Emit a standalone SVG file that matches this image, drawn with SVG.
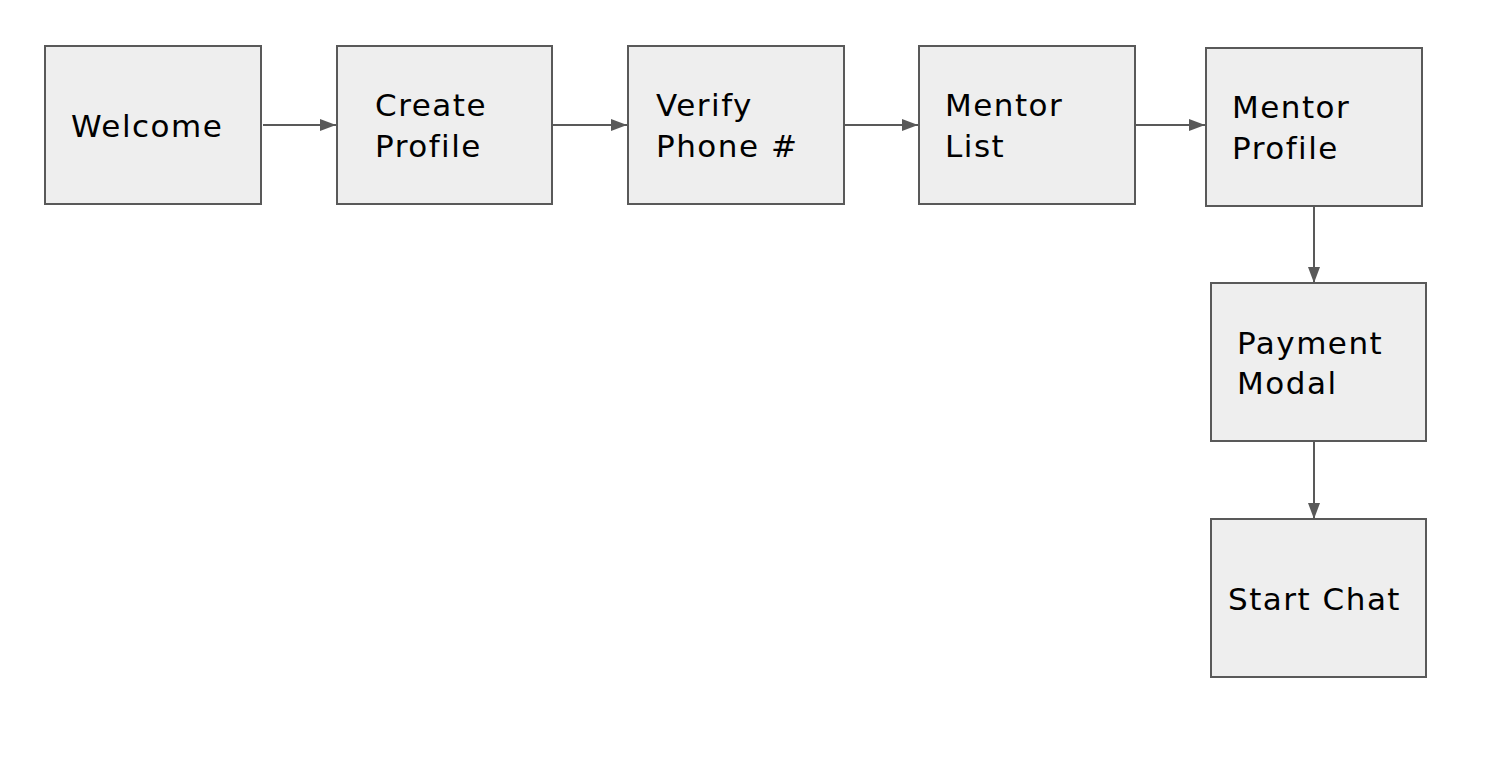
<svg xmlns="http://www.w3.org/2000/svg" width="1496" height="776" viewBox="0 0 1496 776">
<defs>
<style>
.box{fill:#eeeeee;stroke:#595959;stroke-width:2}
.lbl{font-family:"DejaVu Sans","Liberation Sans",sans-serif;font-size:31px;letter-spacing:1.5px;fill:#000}
.conn{stroke:#595959;stroke-width:2;fill:none}
</style>
<marker id="ah" markerWidth="16" markerHeight="12" refX="16" refY="6" orient="auto" markerUnits="userSpaceOnUse">
<path d="M0,0 L16,6 L0,12 Z" fill="#595959"/>
</marker>
</defs>
<rect width="1496" height="776" fill="#ffffff"/>
<g id="connectors">
<line class="conn" x1="263" y1="125" x2="336" y2="125" marker-end="url(#ah)"/>
<line class="conn" x1="553" y1="125" x2="627" y2="125" marker-end="url(#ah)"/>
<line class="conn" x1="845" y1="125" x2="918" y2="125" marker-end="url(#ah)"/>
<line class="conn" x1="1136" y1="125" x2="1205" y2="125" marker-end="url(#ah)"/>
<line class="conn" x1="1314" y1="207" x2="1314" y2="283" marker-end="url(#ah)"/>
<line class="conn" x1="1314" y1="442" x2="1314" y2="519" marker-end="url(#ah)"/>
</g>
<g id="welcome">
<rect class="box" x="45" y="46" width="216" height="158"/>
<text class="lbl" x="71" y="137">Welcome</text>
</g>
<g id="create-profile">
<rect class="box" x="337" y="46" width="215" height="158"/>
<text class="lbl" x="375" y="116">Create</text>
<text class="lbl" x="375" y="157">Profile</text>
</g>
<g id="verify-phone">
<rect class="box" x="628" y="46" width="216" height="158"/>
<text class="lbl" x="656" y="116">Verify</text>
<text class="lbl" x="656" y="157">Phone #</text>
</g>
<g id="mentor-list">
<rect class="box" x="919" y="46" width="216" height="158"/>
<text class="lbl" x="945" y="116">Mentor</text>
<text class="lbl" x="945" y="157">List</text>
</g>
<g id="mentor-profile">
<rect class="box" x="1206" y="48" width="216" height="158"/>
<text class="lbl" x="1232" y="118">Mentor</text>
<text class="lbl" x="1232" y="159">Profile</text>
</g>
<g id="payment-modal">
<rect class="box" x="1211" y="283" width="215" height="158"/>
<text class="lbl" x="1237" y="354">Payment</text>
<text class="lbl" x="1237" y="394">Modal</text>
</g>
<g id="start-chat">
<rect class="box" x="1211" y="519" width="215" height="158"/>
<text class="lbl" x="1228" y="610">Start Chat</text>
</g>
</svg>
